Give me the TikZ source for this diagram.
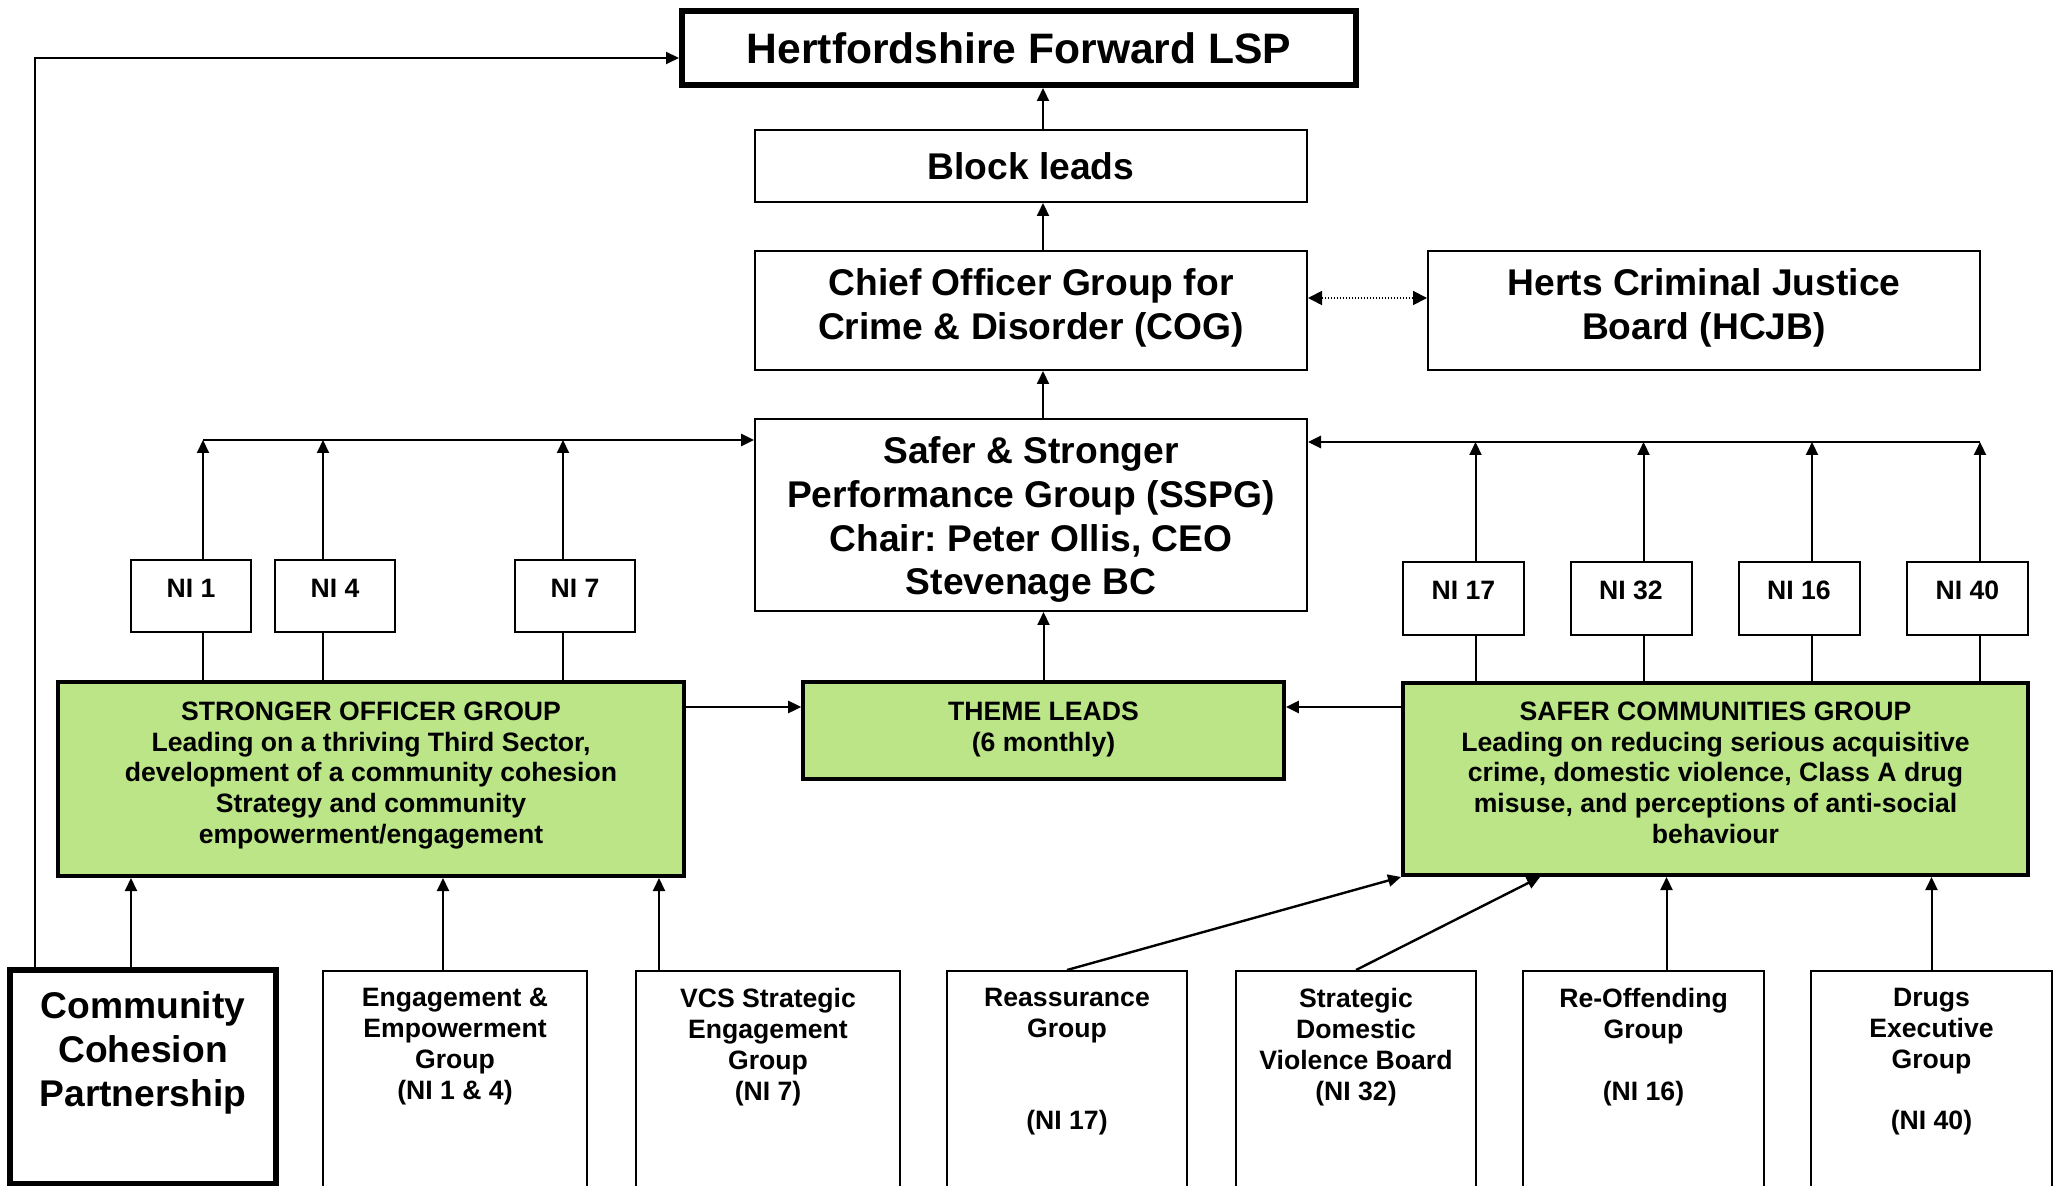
\documentclass[tikz,border=0pt]{standalone}
\usepackage{fontspec}
\setmainfont{Liberation Sans}
\usetikzlibrary{arrows.meta,backgrounds}
\definecolor{grn}{RGB}{187,229,134}
\frenchspacing
\begin{document}
\begin{tikzpicture}[x=0.5pt,y=-0.5pt,
  box/.style={draw, line width=1pt, fill=white, inner sep=0pt},
  greenbox/.style={draw, line width=2pt, fill=grn, inner sep=0pt},
  bigtxt/.style={font=\bfseries\frenchspacing\fontsize{18.6}{21.8}\selectfont, align=center, inner sep=0pt, anchor=north, execute at begin node=\strut},
  smalltxt/.style={font=\bfseries\frenchspacing\fontsize{13.3}{15.4}\selectfont, align=center, inner sep=0pt, anchor=north, execute at begin node=\strut},
  arr/.style={-{Triangle[length=6.5pt,width=6pt]}, line width=1pt},
  dotarr/.style={{Triangle[length=7pt,width=7pt]}-{Triangle[length=7pt,width=7pt]}, line width=0.9pt, dash pattern=on 0.6pt off 0.9pt},
]
\useasboundingbox (0,0) rectangle (2060,1186);
\clip (0,0) rectangle (2060,1186);

% ---- top chain
\node[draw, line width=3pt, fill=white, inner sep=0pt, minimum width=337pt, minimum height=37pt,
      font=\bfseries\fontsize{21.3}{25}\selectfont] (lsp) at (1019,48) {Hertfordshire Forward LSP};
\node[box, minimum width=276pt, minimum height=36pt, font=\bfseries\fontsize{18.6}{21.8}\selectfont] (block) at (1031,166) {Block leads};
\node[box, minimum width=276pt, minimum height=59.5pt] (cog) at (1031,310.5) {};
\node[bigtxt] (cogt) at (1031,268.5) {Chief Officer Group for\\Crime \& Disorder (COG)};
\node[box, minimum width=276pt, minimum height=59.5pt] (hcjb) at (1704,310.5) {};
\node[bigtxt] (hcjbt) at (1704,268.5) {Herts Criminal Justice\\Board (HCJB)};
\node[box, minimum width=276pt, minimum height=96pt] (sspg) at (1031,515) {};
\node[bigtxt] (sspgt) at (1031,436.5) {Safer \& Stronger\\Performance Group (SSPG)\\Chair: Peter Ollis, CEO\\Stevenage BC};

% ---- NI boxes left
\node[box, minimum width=60pt, minimum height=36pt] (ni1) at (191,596) {};
\node[smalltxt] (ni1t) at (191,575.4) {NI 1};
\node[box, minimum width=60pt, minimum height=36pt] (ni4) at (335,596) {};
\node[smalltxt] (ni4t) at (335,575.4) {NI 4};
\node[box, minimum width=60pt, minimum height=36pt] (ni7) at (575,596) {};
\node[smalltxt] (ni7t) at (575,575.4) {NI 7};

% ---- NI boxes right
\node[box, minimum width=60.5pt, minimum height=36.5pt] (ni17) at (1463.5,598.5) {};
\node[smalltxt] (ni17t) at (1463.5,577.4) {NI 17};
\node[box, minimum width=60.5pt, minimum height=36.5pt] (ni32) at (1631,598.5) {};
\node[smalltxt] (ni32t) at (1631,577.4) {NI 32};
\node[box, minimum width=60.5pt, minimum height=36.5pt] (ni16) at (1799,598.5) {};
\node[smalltxt] (ni16t) at (1799,577.4) {NI 16};
\node[box, minimum width=60.5pt, minimum height=36.5pt] (ni40) at (1967.5,598.5) {};
\node[smalltxt] (ni40t) at (1967.5,577.4) {NI 40};

% ---- green groups
\node[greenbox, minimum width=313pt, minimum height=97pt] (sog) at (371,779) {};
\node[smalltxt] (sogt) at (371,701.4) {STRONGER OFFICER GROUP\\Leading on a thriving Third Sector,\\development of a community cohesion\\Strategy and community\\empowerment/engagement};
\node[greenbox, line width=1.8pt, minimum width=240.5pt, minimum height=48.5pt] (theme) at (1043.5,730.5) {};
\node[smalltxt] (themet) at (1043.5,701.4) {THEME LEADS\\(6 monthly)};
\node[greenbox, minimum width=312.5pt, minimum height=96pt] (scg) at (1715.5,779) {};
\node[smalltxt] (scgt) at (1715.5,701.4) {SAFER COMMUNITIES GROUP\\Leading on reducing serious acquisitive\\crime, domestic violence, Class A drug\\misuse, and perceptions of anti-social\\behaviour};

% ---- bottom row
\node[draw, line width=2.7pt, fill=white, inner sep=0pt, minimum width=133pt, minimum height=107pt] (ccp) at (143,1077) {};
\node[bigtxt] (ccpt) at (143,991.5) {Community\\Cohesion\\Partnership};
\node[box, minimum width=132pt, minimum height=109.5pt] (eeg) at (455,1080.5) {};
\node[smalltxt] (eegt) at (455,988) {Engagement \&\\Empowerment\\Group\\(NI 1 \& 4)};
\node[box, minimum width=132pt, minimum height=109.5pt] (vcs) at (768,1080.5) {};
\node[smalltxt] (vcst) at (768,988) {VCS Strategic\\Engagement\\Group\\(NI 7)};
\node[box, minimum width=120pt, minimum height=109.5pt] (rg) at (1067,1080.5) {};
\node[smalltxt] (rgt) at (1067,988) {Reassurance\\Group\\\mbox{}\\\mbox{}\\(NI 17)};
\node[box, minimum width=120pt, minimum height=109.5pt] (sdv) at (1356,1080.5) {};
\node[smalltxt] (sdvt) at (1356,988) {Strategic\\Domestic\\Violence Board\\(NI 32)};
\node[box, minimum width=120.5pt, minimum height=109.5pt] (rog) at (1643.5,1080.5) {};
\node[smalltxt] (rogt) at (1643.5,988) {Re-Offending\\Group\\\mbox{}\\(NI 16)};
\node[box, minimum width=120.5pt, minimum height=109.5pt] (deg) at (1931.5,1080.5) {};
\node[smalltxt] (degt) at (1931.5,988) {Drugs\\Executive\\Group\\\mbox{}\\(NI 40)};

% ---- coordinates for connector positions
\coordinate (spx) at (1043,0);
\coordinate (lc) at (35,58);
\coordinate (dy) at (0,298);
\coordinate (l1) at (203,440);
\coordinate (l4) at (323,440);
\coordinate (l7) at (563,440);
\coordinate (r17) at (1475.5,442);
\coordinate (r32) at (1643.5,442);
\coordinate (r16) at (1812,442);
\coordinate (r40) at (1980,442);
\coordinate (ty) at (0,707);
\coordinate (b1) at (131,0);
\coordinate (b2) at (443,0);
\coordinate (b3) at (659,0);
\coordinate (b5) at (1666.5,0);
\coordinate (b6) at (1540,0);

\begin{scope}[on background layer]
\fill[white] (0,0) rectangle (2060,1186);
% spine
\draw[arr] (block.north -| spx) -- (lsp.south -| spx);
\draw[arr] (cog.north -| spx) -- (block.south -| spx);
\draw[arr] (sspg.north -| spx) -- (cog.south -| spx);
\draw[arr] (theme.north) -- (sspg.south -| theme.north);
% dotted link
\draw[dotarr] (cog.east |- dy) -- (hcjb.west |- dy);
% community cohesion to LSP
\draw[arr] (ccp.north -| lc) |- (lsp.west |- lc);
% left NI risers
\draw[arr] (sog.north -| l1) -- (l1);
\draw[arr] (sog.north -| l4) -- (l4);
\draw[arr] (sog.north -| l7) -- (l7);
\draw[arr, line width=1.4pt] (l1) -- (sspg.west |- l1);
% right NI risers
\draw[arr] (scg.north -| r17) -- (r17);
\draw[arr] (scg.north -| r32) -- (r32);
\draw[arr] (scg.north -| r16) -- (r16);
\draw[arr] (scg.north -| r40) -- (r40);
\draw[arr, line width=1.4pt] (r40) -- (sspg.east |- r40);
% groups to theme leads
\draw[arr, line width=1.3pt] (sog.east |- ty) -- (theme.west |- ty);
\draw[arr, line width=1.3pt] (scg.west |- ty) -- (theme.east |- ty);
% bottom row
\draw[arr] (ccp.north -| b1) -- (sog.south -| b1);
\draw[arr] (eeg.north -| b2) -- (sog.south -| b2);
\draw[arr] (vcs.north -| b3) -- (sog.south -| b3);
\draw[arr, line width=1.2pt] (rg.north) -- (scg.south west);
\draw[arr, line width=1.2pt] (sdv.north) -- (scg.south -| b6);
\draw[arr] (rog.north -| b5) -- (scg.south -| b5);
\draw[arr] (deg.north) -- (scg.south -| deg.north);
\end{scope}
\end{tikzpicture}
\end{document}
